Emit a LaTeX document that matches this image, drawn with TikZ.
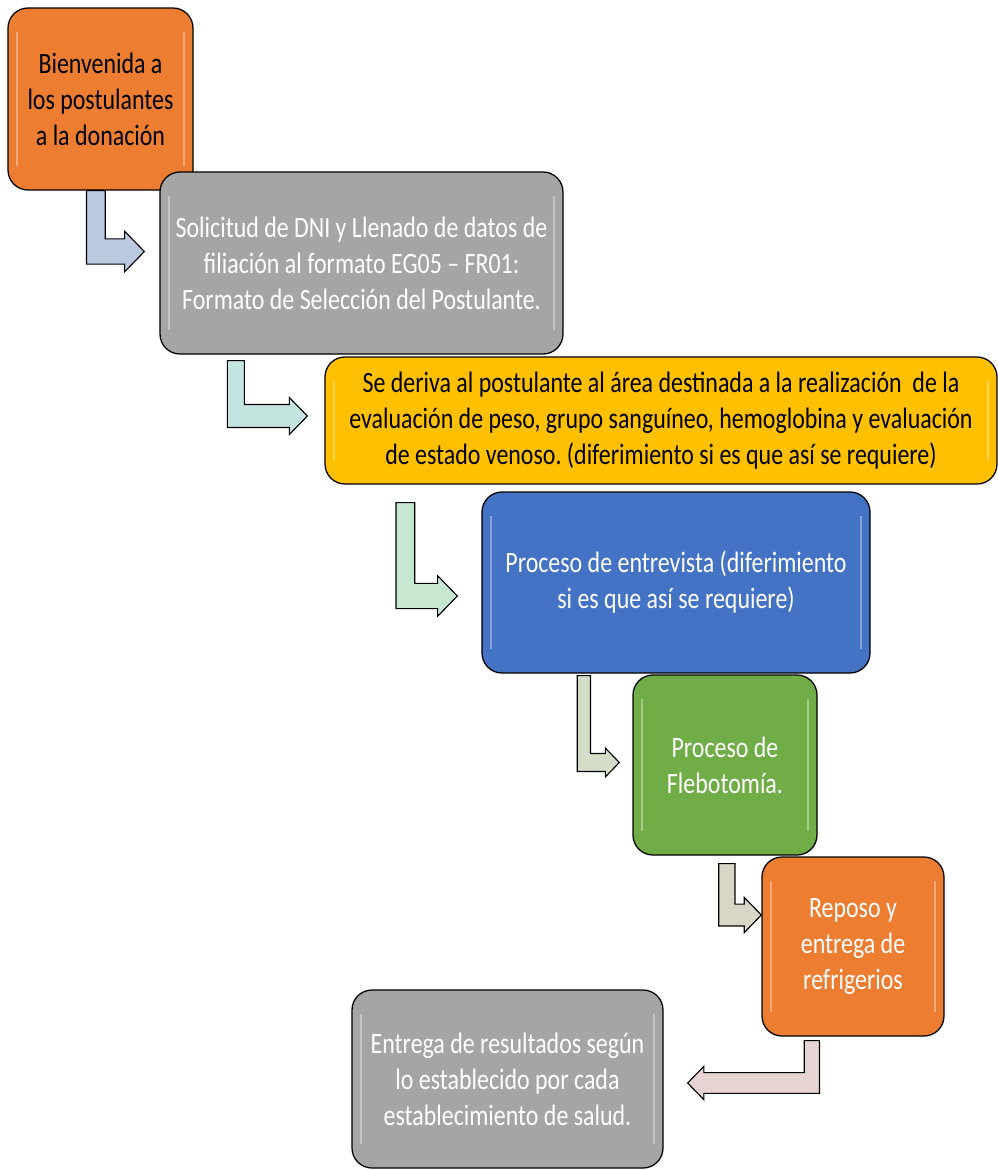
\documentclass[tikz,border=0pt]{standalone}
\usepackage{fontspec}
\setmainfont[FakeStretch=0.81]{Carlito}
\usetikzlibrary{calc}
\frenchspacing

\definecolor{naranja}{HTML}{ED7D31}
\definecolor{gris}{HTML}{A5A5A5}
\definecolor{oro}{HTML}{FFC000}
\definecolor{azul}{HTML}{4472C4}
\definecolor{verde}{HTML}{70AD47}
\definecolor{flechaA}{RGB}{186,200,224}
\definecolor{flechaB}{RGB}{196,228,224}
\definecolor{flechaC}{RGB}{198,232,208}
\definecolor{flechaD}{RGB}{212,221,200}
\definecolor{flechaE}{RGB}{216,214,196}
\definecolor{flechaF}{RGB}{229,212,210}

% flecha en codo: #1 inicio, #2 punta, #3 relleno, #4 escala, #5 sentido (1 der, -1 izq)
\newcommand{\codo}[5]{%
  \draw[flecha, fill=#3]
    ($(#1)+({-8.5*#4*(#5)},0)$) -- ($(#1)+({8.5*#4*(#5)},0)$)
    -- ($(#1 |- #2)+({8.5*#4*(#5)},{-11.5*#4})$)
    -- ($(#2)+({-18*#4*(#5)},{-11.5*#4})$) -- ($(#2)+({-18*#4*(#5)},{-18.5*#4})$)
    -- (#2)
    -- ($(#2)+({-18*#4*(#5)},{18.5*#4})$) -- ($(#2)+({-18*#4*(#5)},{11.5*#4})$)
    -- ($(#1 |- #2)+({-8.5*#4*(#5)},{11.5*#4})$) -- cycle;
}

\begin{document}
\begin{tikzpicture}[
    x=0.25mm, y=-0.25mm,
    % Estilos
    paso/.style={
        rectangle, draw=black, line width=0.9pt, rounded corners=5mm,
        align=center, inner sep=0pt,
        font=\fontsize{21}{25.6}\selectfont,
        path picture={
            \draw[white, line width=1.2pt, opacity=0.35]
                ([shift={(2.2mm,-6mm)}]path picture bounding box.north west) --
                ([shift={(2.2mm,6mm)}]path picture bounding box.south west);
            \draw[white, line width=1.2pt, opacity=0.35]
                ([shift={(-2.2mm,-6mm)}]path picture bounding box.north east) --
                ([shift={(-2.2mm,6mm)}]path picture bounding box.south east);
        }
    },
    flecha/.style={draw=black, line width=0.8pt, line join=miter}
]
\useasboundingbox (0,0) rectangle (998,1170);

% Pasos
\node[paso, fill=naranja, text=black, minimum width=46.25mm, minimum height=45.5mm]
    (bienvenida) at (100.5,99) {Bienvenida a\\los postulantes\\a la donación};
\node[paso, fill=gris, text=white, minimum width=100.75mm, minimum height=45.5mm]
    (solicitud) at (361.5,263) {Solicitud de DNI y Llenado de datos de\\filiación al formato EG05 – FR01:\\Formato de Selección del Postulante.};
\node[paso, fill=oro, text=black, minimum width=168mm, minimum height=31.75mm]
    (deriva) at (661,420.5) {Se deriva al postulante al área destinada a la realización \ de la\\evaluación de peso, grupo sanguíneo, hemoglobina y evaluación\\de estado venoso. (diferimiento si es que así se requiere)};
\node[paso, fill=azul, text=white, minimum width=97mm, minimum height=45.25mm]
    (entrevista) at (676,582.5) {Proceso de entrevista (diferimiento\\si es que así se requiere)};
\node[paso, fill=verde, text=white, minimum width=46mm, minimum height=45mm]
    (flebotomia) at (725,765) {Proceso de\\Flebotomía.};
\node[paso, fill=naranja, text=white, minimum width=45.5mm, minimum height=44.75mm]
    (reposo) at (853,946.5) {Reposo y\\entrega de\\refrigerios};
\node[paso, fill=gris, text=white, minimum width=77.75mm, minimum height=44.5mm]
    (resultados) at (507.5,1079) {Entrega de resultados según\\lo establecido por cada\\establecimiento de salud.};

% Flechas
\coordinate (s1) at ($(bienvenida.south west)+(88.5,0)$);
\coordinate (t1) at ($(solicitud.west)+(-15,-11.5)$);
\coordinate (s2) at ($(solicitud.south west)+(76.5,6)$);
\coordinate (t2) at ($(deriva.west)+(-17,-4.5)$);
\coordinate (s3) at ($(deriva.south west)+(81,18)$);
\coordinate (t3) at ($(entrevista.west)+(-24,13.5)$);
\coordinate (s4) at ($(entrevista.south west)+(102.5,2)$);
\coordinate (t4) at ($(flebotomia.west)+(-13,-2.5)$);
\coordinate (s5) at ($(flebotomia.south west)+(94.5,8)$);
\coordinate (t5) at ($(reposo.west)+(0,-31.5)$);
\coordinate (s6) at ($(reposo.south west)+(50.5,4)$);
\coordinate (t6) at ($(resultados.east)+(24,4)$);

\codo{s1}{t1}{flechaA}{1.1}{1}
\codo{s2}{t2}{flechaB}{1.0}{1}
\codo{s3}{t3}{flechaC}{1.1}{1}
\codo{s4}{t4}{flechaD}{0.78}{1}
\codo{s5}{t5}{flechaE}{0.95}{1}
\codo{s6}{t6}{flechaF}{0.9}{-1}

\end{tikzpicture}
\end{document}
